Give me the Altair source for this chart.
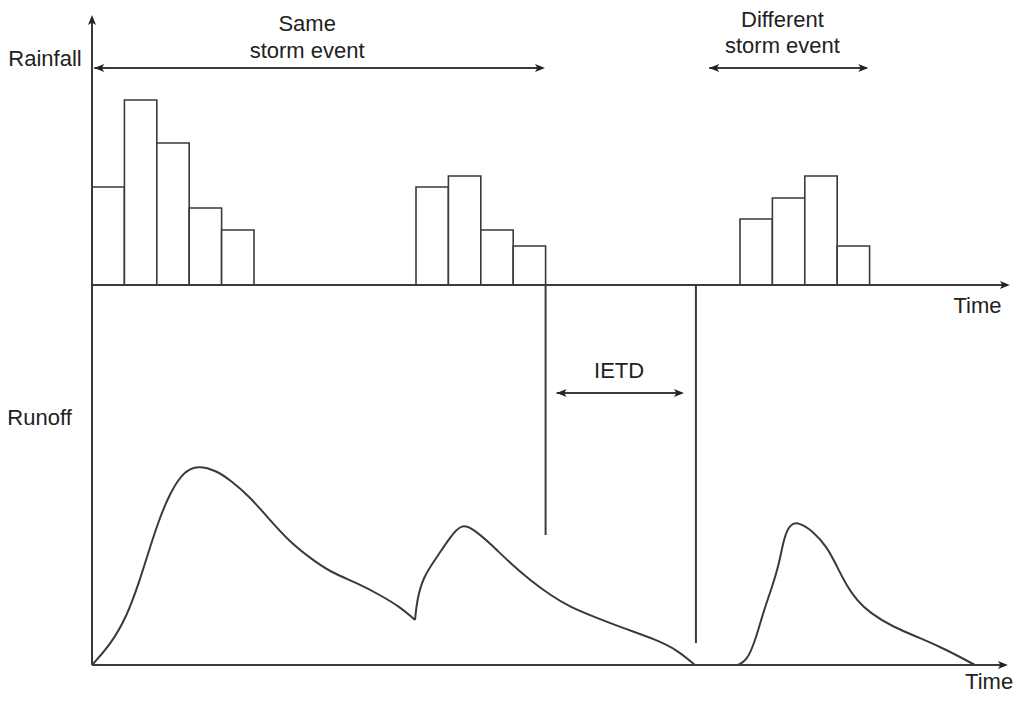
import altair as alt
import pandas as pd

# ---------------- data (time in time-steps, depth in arbitrary units) ----------------
bar_start = [0, 1, 2, 3, 4, 10, 11, 12, 13, 20, 21, 22, 23]
rainfall = [9.8, 18.5, 14.2, 7.7, 5.5, 9.8, 10.9, 5.5, 3.9, 6.6, 8.7, 10.9, 3.9]
RAIN_BASE = 38.0  # level of the rainfall time axis

# runoff hydrograph, three segments
seg_a_t = [0.00, 0.56, 1.07, 1.48, 1.79, 2.10, 2.41, 2.81, 3.27, 3.86, 4.26, 4.88,
           5.49, 6.11, 6.73, 7.35, 8.18, 8.89, 9.51, 9.97]
seg_a_q = [0.0, 2.0, 4.8, 8.5, 11.8, 14.8, 17.2, 19.3, 20.0, 19.4, 18.5, 16.8,
           14.5, 12.3, 10.7, 9.3, 8.2, 7.0, 5.8, 4.5]
seg_b_t = [9.97, 10.03, 10.22, 10.65, 11.05, 11.42, 11.76, 12.28, 12.90, 13.52,
           14.14, 14.75, 15.59, 16.39, 17.44, 18.06, 18.61]
seg_b_q = [4.5, 6.5, 8.8, 10.8, 12.8, 14.15, 13.6, 12.2, 10.2, 8.5,
           7.0, 5.8, 4.7, 3.7, 2.5, 1.5, 0.0]
seg_c_t = [19.93, 20.20, 20.45, 20.71, 21.00, 21.20, 21.36, 21.55, 21.80, 22.25,
           22.69, 23.00, 23.30, 23.60, 24.01, 24.72, 25.56, 26.39, 27.25]
seg_c_q = [0.0, 0.4, 2.2, 5.2, 7.9, 10.0, 12.8, 14.1, 14.3, 13.4,
           11.8, 9.8, 7.9, 6.5, 5.2, 3.8, 2.7, 1.5, 0.0]

# line segments: (t1, y1, t2, y2)
seg_t1 = [0.0, 0.0, 0.0, 0.07, 19.05, 14.34, 14.0, 18.64]
seg_y1 = [0.0, 38.0, 0.0, 59.7, 59.7, 27.2, 38.0, 38.0]
seg_t2 = [0.0, 28.2, 28.15, 13.9, 23.9, 18.2, 14.0, 18.64]
seg_y2 = [64.5, 38.0, 0.0, 59.7, 59.7, 27.2, 13.0, 2.2]

# arrow heads: position and direction (degrees, clockwise from pointing right)
head_t = [0.0, 28.33, 28.27, 0.07, 13.98, 19.05, 23.96, 14.34, 18.27]
head_y = [65.0, 38.0, 0.0, 59.7, 59.7, 59.7, 59.7, 27.2, 27.2]
head_angle = [270, 0, 0, 180, 0, 180, 0, 180, 0]

# labels
label_text = ["Rainfall", "Runoff", "Same", "storm event", "Different", "storm event",
              "IETD", "Time", "Time"]
label_t = [-1.45, -1.62, 6.64, 6.64, 21.31, 21.31, 16.27, 27.33, 27.69]
label_y = [59.9, 24.0, 63.4, 60.7, 63.8, 61.2, 28.7, 35.2, -2.4]

# ---------------- build tables ----------------
bars = pd.DataFrame({
    "t": bar_start,
    "t2": [s + 1 for s in bar_start],
    "y": [RAIN_BASE] * len(bar_start),
    "y2": [RAIN_BASE + r for r in rainfall],
})
runoff = pd.concat([
    pd.DataFrame({"t": seg_a_t, "y": seg_a_q, "seg": "a"}),
    pd.DataFrame({"t": seg_b_t, "y": seg_b_q, "seg": "b"}),
    pd.DataFrame({"t": seg_c_t, "y": seg_c_q, "seg": "c"}),
])
segs = pd.DataFrame({"t": seg_t1, "y": seg_y1, "t2": seg_t2, "y2": seg_y2})
heads = pd.DataFrame({"t": head_t, "y": head_y, "angle": head_angle})
labels = pd.DataFrame({"t": label_t, "y": label_y, "label": label_text})

XS = alt.Scale(domain=[-2.593, 28.519], nice=False, zero=False)
YS = alt.Scale(domain=[-3.3, 65.7], nice=False, zero=False)
INK = "#3a3a3a"

x = alt.X("t:Q", scale=XS, axis=None)
y = alt.Y("y:Q", scale=YS, axis=None)

bar_layer = alt.Chart(bars).mark_rect(fill="white", stroke=INK, strokeWidth=1.6).encode(
    x=x, x2="t2:Q", y=y, y2="y2:Q")

line_layer = alt.Chart(runoff).mark_line(color=INK, strokeWidth=2, interpolate="basis").encode(
    x=x, y=y, detail="seg:N")

rule_layer = alt.Chart(segs).mark_rule(color=INK, strokeWidth=2).encode(
    x=x, x2="t2:Q", y=y, y2="y2:Q")

head_layer = alt.Chart(heads).mark_point(
    shape="M0,0 L-2,-0.8 L-1.5,0 L-2,0.8 Z", filled=True, size=100, opacity=1, color="#222"
).encode(x=x, y=y, angle=alt.Angle("angle:Q", scale=None))

text_layer = alt.Chart(labels).mark_text(
    font="Liberation Sans", fontSize=22, color="#222", align="center", baseline="alphabetic"
).encode(x=x, y=y, text="label:N")

chart = alt.layer(bar_layer, rule_layer, line_layer, head_layer, text_layer).properties(
    width=1008, height=690, padding=0, autosize=alt.AutoSizeParams(type="none"),
    background="white",
).configure_view(stroke=None)

chart.save("out.html", embed_options={"renderer": "svg", "actions": False})
